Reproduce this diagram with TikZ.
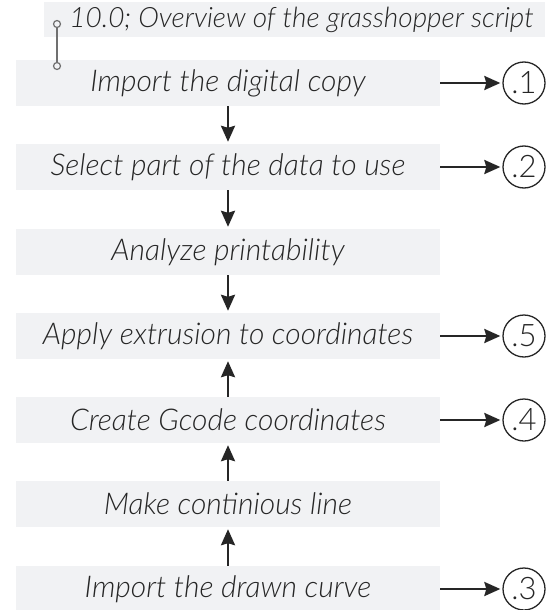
\documentclass[tikz,border=0pt]{standalone}
\usepackage{fontspec}
\setmainfont{Lato}[UprightFont=* Light, ItalicFont=* Light Italic]
\usetikzlibrary{arrows.meta}
\definecolor{boxgray}{HTML}{F1F2F4}
\definecolor{ink}{HTML}{262626}
\definecolor{linkgray}{HTML}{707070}
\begin{document}
\begin{tikzpicture}[x=1pt,y=-1pt,
  stepbox/.style={fill=boxgray, minimum width=424pt, minimum height=46pt,
    inner sep=0pt, text=ink, font=\fontsize{30}{34}\selectfont\itshape},
  titlebox/.style={fill=boxgray, minimum width=501pt, minimum height=35pt,
    inner sep=0pt, text=ink, font=\fontsize{28}{32}\selectfont\itshape},
  refmark/.style={circle, draw=ink, line width=1.3pt, minimum size=42pt,
    inner sep=0pt, text=ink, font=\fontsize{31}{31}\selectfont},
  pindot/.style={circle, draw=linkgray, line width=1.2pt, minimum size=7pt,
    inner sep=0pt},
  linkline/.style={draw=linkgray, line width=2pt},
  flow/.style={draw=ink, line width=2.5pt,
    -{Stealth[length=16pt,width=14pt,inset=2pt]}, shorten >=2pt}
]
\useasboundingbox (0,0) rectangle (554,610);

% title strip
\node[titlebox] (title) at (294.5,19.5) {\hspace*{14pt}10.0; Overview of the grasshopper script};

% process steps
\node[stepbox] (b1) at (228,83)  {Import the digital copy};
\node[stepbox] (b2) at (228,167) {Select part of the data to use};
\node[stepbox] (b3) at (228,252) {Analyze printability};
\node[stepbox] (b4) at (228,336) {Apply extrusion to coordinates};
\node[stepbox] (b5) at (228,420) {Create Gcode coordinates};
\node[stepbox] (b6) at (228,504) {Make continious line};
\node[stepbox] (b7) at (228,589) {Import the drawn curve};

% reference markers
\node[refmark] (m1) at (524,83)  {.1};
\node[refmark] (m2) at (524,167) {.2};
\node[refmark] (m5) at (524,336) {.5};
\node[refmark] (m4) at (524,420) {.4};
\node[refmark] (m3) at (524,589) {.3};

% title link
\node[pindot] (p1) at (57,24) {};
\node[pindot] (p2) at (57,66) {};
\draw[linkline] (p1) -- (p2);

% vertical flow
\draw[flow] (b1.south) -- (b2.north);
\draw[flow] (b2.south) -- (b3.north);
\draw[flow] (b3.south) -- (b4.north);
\draw[flow] (b5.north) -- (b4.south);
\draw[flow] (b6.north) -- (b5.south);
\draw[flow] (b7.north) -- (b6.south);

% links to markers
\draw[flow] (b1.east) -- (m1.west);
\draw[flow] (b2.east) -- (m2.west);
\draw[flow] (b4.east) -- (m5.west);
\draw[flow] (b5.east) -- (m4.west);
\draw[flow] (b7.east) -- (m3.west);
\end{tikzpicture}
\end{document}
